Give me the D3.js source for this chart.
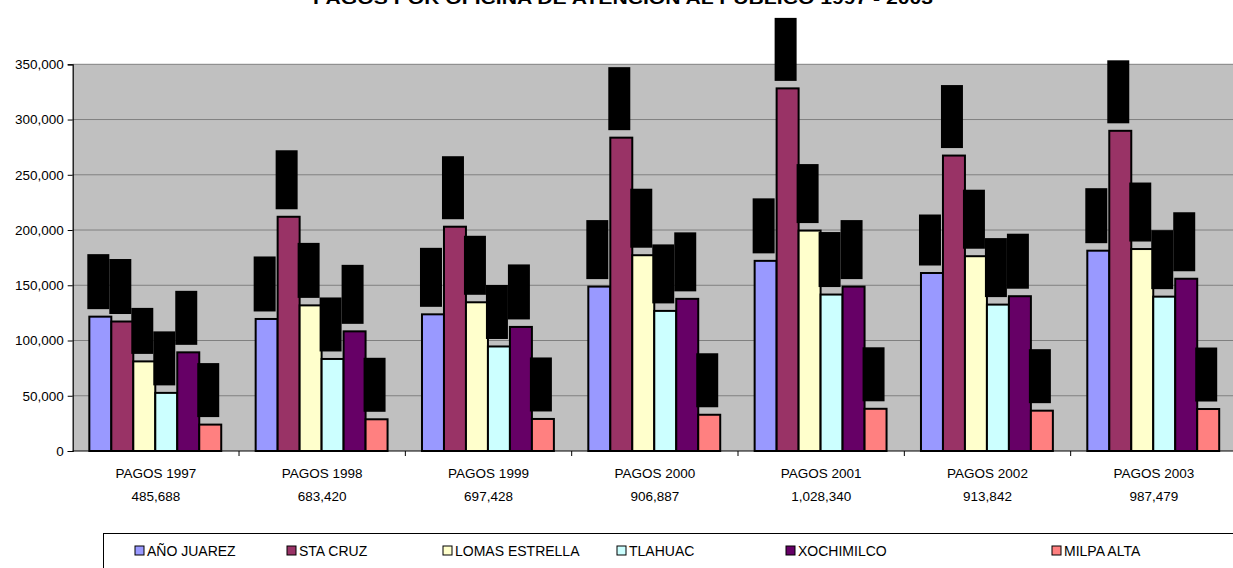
<!DOCTYPE html>
<html>
<head>
<meta charset="utf-8">
<script src="https://cdn.jsdelivr.net/npm/d3@7"></script>
<style>
  html, body { margin: 0; padding: 0; background: #fff; }
  svg { display: block; font-family: "Liberation Sans", Arial, sans-serif; }
</style>
</head>
<body>
<svg id="chart" width="1233" height="568"></svg>
<script>
// Payments per public service office, 1997 - 2003
const title = "PAGOS POR OFICINA DE ATENCION AL PUBLICO 1997 - 2003";
const years = ["PAGOS 1997", "PAGOS 1998", "PAGOS 1999", "PAGOS 2000", "PAGOS 2001", "PAGOS 2002", "PAGOS 2003"];
const yearTotals = ["485,688", "683,420", "697,428", "906,887", "1,028,340", "913,842", "987,479"];
const offices = ["AÑO JUAREZ", "STA CRUZ", "LOMAS ESTRELLA", "TLAHUAC", "XOCHIMILCO", "MILPA ALTA"];
const officeColors = ["#9999FF", "#993366", "#FFFFCC", "#CCFFFF", "#660066", "#FF8080"];

// one array per office, one value per year
const anoJuarez   = [121600, 119500, 123700, 148800, 172100, 161100, 181300];
const staCruz     = [117200, 212000, 203000, 283600, 328200, 267400, 289800];
const lomasEstr   = [ 81100, 131800, 134600, 177200, 199500, 176300, 182800];
const tlahuac     = [ 52600,  83300,  94600, 126800, 141600, 132500, 139700];
const xochimilco  = [ 89300, 108300, 112300, 137700, 148800, 140100, 155900];
const milpaAlta   = [ 23900,  28700,  29000,  32800,  38200,  36500,  38000];
const seriesValues = [anoJuarez, staCruz, lomasEstr, tlahuac, xochimilco, milpaAlta];

const yTicks = [0, 50000, 100000, 150000, 200000, 250000, 300000, 350000];

const svg = d3.select("#chart");
const plot = { left: 72.7, right: 1237, top: 64.3, bottom: 451 };

const x = d3.scaleBand().domain(years).range([plot.left, plot.right]).paddingInner(0).paddingOuter(0);
const bw = x.bandwidth();
const xInner = d3.scaleBand().domain(offices).range([0.1 * bw, 0.893 * bw]).padding(0);
const y = d3.scaleLinear().domain([0, 350000]).range([plot.bottom, plot.top]);

// title
svg.append("text")
  .attr("x", 623).attr("y", 4)
  .attr("text-anchor", "middle")
  .attr("font-size", 16).attr("font-weight", "bold")
  .attr("textLength", 620).attr("lengthAdjust", "spacingAndGlyphs")
  .text(title);

// plot background
svg.append("rect")
  .attr("x", plot.left).attr("y", plot.top)
  .attr("width", plot.right - plot.left).attr("height", plot.bottom - plot.top)
  .attr("fill", "#C0C0C0");

// gridlines
svg.append("g").selectAll("line")
  .data(yTicks.filter(d => d > 0))
  .join("line")
  .attr("x1", plot.left).attr("x2", plot.right)
  .attr("y1", d => y(d)).attr("y2", d => y(d))
  .attr("stroke", "#808080").attr("stroke-width", 1);

// y axis
const yAxis = svg.append("g")
  .attr("transform", `translate(${plot.left},0)`)
  .call(d3.axisLeft(y).tickValues(yTicks).tickFormat(d3.format(",")).tickSize(5).tickPadding(4));
yAxis.select(".domain").attr("stroke", "#000").attr("stroke-width", 1.2);
yAxis.selectAll(".tick line").attr("stroke", "#000");
yAxis.selectAll(".tick text")
  .attr("font-size", 13.5).attr("fill", "#000")
  .attr("font-family", "'Liberation Sans', Arial, sans-serif");

// bars
const rows = [];
years.forEach((yr, i) => {
  offices.forEach((of, j) => {
    rows.push({ year: yr, office: of, value: seriesValues[j][i], color: officeColors[j] });
  });
});

const groups = svg.append("g");
groups.selectAll("rect.bar")
  .data(rows)
  .join("rect")
  .attr("class", "bar")
  .attr("x", d => x(d.year) + xInner(d.office))
  .attr("y", d => y(d.value))
  .attr("width", xInner.bandwidth())
  .attr("height", d => y(0) - y(d.value))
  .attr("fill", d => d.color)
  .attr("stroke", "#000").attr("stroke-width", 2);

// rotated value labels, printed black on a black block
const fmt = d3.format(",");
function labelExtent(s) {
  let w = 4.5;
  for (const ch of s) w += ch === "1" ? 5 : ch === "," ? 4.5 : 9;
  return w;
}
const labels = svg.append("g").selectAll("g.lbl")
  .data(rows)
  .join("g")
  .attr("class", "lbl")
  .attr("transform", d => `translate(${x(d.year) + xInner(d.office) - 2},${y(d.value) - 7.5})`);
labels.append("rect")
  .attr("x", 0)
  .attr("y", d => -labelExtent(fmt(d.value)))
  .attr("width", xInner.bandwidth())
  .attr("height", d => labelExtent(fmt(d.value)))
  .attr("fill", "#000");
labels.append("text")
  .attr("transform", `translate(${xInner.bandwidth() / 2 + 5},-2) rotate(-90)`)
  .attr("font-size", 14)
  .attr("fill", "#000")
  .attr("textLength", d => labelExtent(fmt(d.value)) - 4.5)
  .attr("lengthAdjust", "spacingAndGlyphs")
  .text(d => fmt(d.value));

// x axis
svg.append("line")
  .attr("x1", plot.left).attr("x2", plot.right)
  .attr("y1", plot.bottom).attr("y2", plot.bottom)
  .attr("stroke", "#000").attr("stroke-width", 1.2);
svg.append("g").selectAll("line")
  .data(years.slice(1))
  .join("line")
  .attr("x1", d => x(d)).attr("x2", d => x(d))
  .attr("y1", plot.bottom).attr("y2", plot.bottom + 5)
  .attr("stroke", "#000");

const catLabels = svg.append("g").selectAll("text")
  .data(years)
  .join("text")
  .attr("x", d => x(d) + bw / 2)
  .attr("text-anchor", "middle")
  .attr("font-size", 13.5)
  .attr("fill", "#000");
catLabels.append("tspan").attr("x", d => x(d) + bw / 2).attr("y", 478).text(d => d);
catLabels.append("tspan").attr("x", d => x(d) + bw / 2).attr("y", 500.5).text((d, i) => yearTotals[i]);

// legend
svg.append("rect")
  .attr("x", 103.5).attr("y", 533.5)
  .attr("width", 1150).attr("height", 60)
  .attr("fill", "#fff").attr("stroke", "#000").attr("stroke-width", 1);
const legendX = [135, 287, 443, 617, 786, 1052];
const legendItems = svg.append("g").selectAll("g")
  .data(offices)
  .join("g")
  .attr("transform", (d, i) => `translate(${legendX[i]},546)`);
legendItems.append("rect")
  .attr("x", 0).attr("y", 0).attr("width", 9).attr("height", 9)
  .attr("fill", (d, i) => officeColors[i])
  .attr("stroke", "#000").attr("stroke-width", 1);
legendItems.append("text")
  .attr("x", 12).attr("y", 10)
  .attr("font-size", 14)
  .attr("fill", "#000")
  .text(d => d);
</script>
</body>
</html>
